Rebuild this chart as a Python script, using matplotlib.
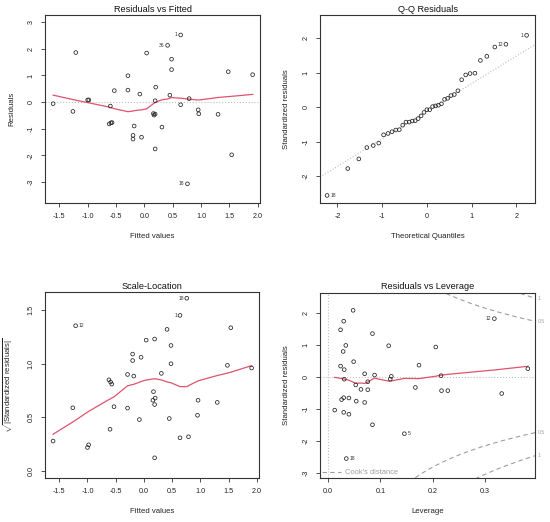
import numpy as np
import matplotlib
matplotlib.use("Agg")
import matplotlib.pyplot as plt
from matplotlib.lines import Line2D
from statistics import NormalDist

plt.rcParams['font.family'] = ['Liberation Sans', 'DejaVu Sans']
plt.rcParams['mathtext.fontset'] = 'custom'
plt.rcParams['mathtext.rm'] = 'Liberation Sans'
plt.rcParams['axes.unicode_minus'] = False

fitted = np.array([-1.61, -1.26, -1.21, -1.00, -0.98, -0.60, -0.53, -0.62, -0.59, -0.57,
                   -0.29, -0.29, -0.18, -0.20, -0.20, -0.08, -0.05, 0.04, 0.16, 0.17,
                   0.19, 0.20, 0.19, 0.19, 0.31, 0.41, 0.64, 0.48, 0.48, 0.45,
                   0.64, 0.79, 0.76, 0.95, 0.96, 1.30, 1.48, 1.54, 1.91])
residuals = np.array([-0.06, -0.35, 1.86, 0.08, 0.08, -0.15, 0.43, -0.82, -0.78, -0.77,
                      0.99, 0.45, -0.90, -1.25, -1.39, 0.30, -1.32, 1.84, -0.43, -0.49,
                      -0.45, 0.56, 0.05, -1.76, -0.94, 2.13, 2.52, 1.61, 1.22, 0.26,
                      -0.10, 0.13, -3.07, -0.29, -0.44, -0.46, 1.14, -1.98, 1.03])
sqrt_abs_std = np.array([0.28, 0.59, 1.354, 0.22, 0.245, 0.39, 0.60, 0.85, 0.83, 0.81,
                         0.90, 0.587, 0.885, 1.03, 1.09, 0.48, 1.06, 1.22, 0.66, 0.74,
                         0.62, 0.68, 0.124, 1.23, 0.91, 1.32, 1.45, 1.17, 1.00, 0.49,
                         0.31, 0.32, 1.61, 0.52, 0.66, 0.64, 0.985, 1.335, 0.96])
fit_labels = {25: "36", 26: "1", 32: "18"}
sl_labels = {2: "12", 26: "1", 32: "18"}

leverage = np.array([0.0128, 0.024, 0.030, 0.029, 0.024, 0.031, 0.031, 0.026, 0.030, 0.030,
                     0.034, 0.040, 0.040, 0.035, 0.048, 0.049, 0.053, 0.054, 0.063, 0.070,
                     0.070, 0.076, 0.076, 0.085, 0.085, 0.089, 0.116, 0.121, 0.119, 0.146,
                     0.167, 0.174, 0.206, 0.216, 0.217, 0.229, 0.318, 0.332, 0.382])
std_resid = np.array([-1.04, 1.48, 1.75, 0.80, 0.34, 0.23, -0.07, -0.71, -0.65, -1.11,
                      0.99, -0.66, -1.17, -2.56, 2.09, 0.48, -0.25, -0.76, -0.39, 0.10,
                      -0.80, -0.15, -0.40, 1.36, -1.50, 0.06, 0.98, 0.02, -0.07, -1.78,
                      -0.33, 0.37, 0.94, 0.04, -0.43, -0.43, 1.83, -0.52, 0.26])
qq_labels = {13: "18", 14: "1", 36: "12"}
lev_labels = {13: "18", 29: "5", 36: "12"}
n_params = 4
cook_levels = [0.5, 1]

RED = '#DF536B'
GRAY = '#BEBEBE'
COOK = '#9E9E9E'
INK = '#333333'


def lowess(x, y, f=2/3, iters=3):
    order = np.argsort(x, kind='stable')
    xs, ys = x[order], y[order]
    n = len(xs)
    ns = max(2, min(n, int(f * n + 1e-7)))
    rw = np.ones(n)
    fit = np.zeros(n)
    for it in range(iters + 1):
        for i in range(n):
            d = np.abs(xs - xs[i])
            h = np.sort(d)[ns - 1]
            w = np.zeros(n)
            if h > 0:
                u = d / h
                w = np.where(u <= 0.999, (1 - np.clip(u, 0, 1) ** 3) ** 3, 0.0)
                w[u <= 0.001] = 1.0
            else:
                w[d == 0] = 1.0
            w = w * rw
            sw = w.sum()
            if sw <= 0:
                fit[i] = ys[i]
                continue
            w = w / sw
            xm = np.sum(w * xs)
            c = np.sum(w * (xs - xm) ** 2)
            if h > 0 and np.sqrt(c) > 0.001 * (xs[-1] - xs[0]):
                b = np.sum(w * (xs - xm) * ys) / c
                fit[i] = np.sum(w * ys) + b * (xs[i] - xm)
            else:
                fit[i] = np.sum(w * ys)
        if it == iters:
            break
        res = ys - fit
        cmad = 6 * np.median(np.abs(res))
        if cmad == 0:
            break
        r = np.abs(res) / cmad
        rw = np.where(r < 1, (1 - r ** 2) ** 2, 0.0)
        rw[r <= 0.001] = 1.0
    return xs, fit


def style(ax):
    for s in ax.spines.values():
        s.set_color(INK)
        s.set_linewidth(0.8)
    ax.tick_params(direction='out', length=3, width=0.6, color=INK,
                   labelsize=5.2, pad=4.5, labelcolor='#222222')
    for lab in ax.get_yticklabels():
        lab.set_rotation(90)
        lab.set_va('center')


def points(ax, x, y):
    ax.scatter(x, y, s=7, facecolors='none', edgecolors='#222222', linewidths=0.55, zorder=3)


def label_ids(ax, x, y, labels, xlim):
    mid = np.mean(xlim)
    for i, txt in labels.items():
        if x[i] > mid:
            ax.annotate(txt, (x[i], y[i]), xytext=(-2.2, 0), textcoords='offset points',
                        ha='right', va='center', fontsize=3.6, color='#333333')
        else:
            ax.annotate(txt, (x[i], y[i]), xytext=(2.2, 0), textcoords='offset points',
                        ha='left', va='center', fontsize=3.6, color='#333333')


fig = plt.figure(figsize=(5.5, 5.22), dpi=100)
W, H = 550, 522
ax1 = fig.add_axes([45 / W, 1 - 203 / H, 215 / W, 188 / H])
ax2 = fig.add_axes([320 / W, 1 - 203 / H, 215 / W, 188 / H])
ax3 = fig.add_axes([45 / W, 1 - 478 / H, 214 / W, 186 / H])
ax4 = fig.add_axes([320 / W, 1 - 478 / H, 215 / W, 185.5 / H])

title_kw = dict(fontsize=6.6, pad=2.5, color='#111111')
label_kw = dict(fontsize=5.6, color='#222222', labelpad=9)

# Residuals vs Fitted
xl1 = (-1.753, 2.04)
ax1.axhline(0, color=GRAY, ls=':', lw=0.8, zorder=1)
points(ax1, fitted, residuals)
sx, sy = lowess(fitted, residuals)
ax1.plot(sx, sy, color=RED, lw=0.9, zorder=2)
label_ids(ax1, fitted, residuals, fit_labels, xl1)
ax1.set_xlim(xl1)
ax1.set_ylim(-3.79, 3.27)
ax1.set_xticks(np.arange(-1.5, 2.01, 0.5))
ax1.set_xticklabels([f"{v:.1f}" for v in np.arange(-1.5, 2.01, 0.5)])
ax1.set_yticks(range(-3, 4))
ax1.set_title("Residuals vs Fitted", **title_kw)
ax1.set_xlabel("Fitted values", **label_kw)
ax1.set_ylabel("Residuals", **label_kw)

# Q-Q Residuals
n = len(std_resid)
nd = NormalDist()
theo = np.array([nd.inv_cdf((i - 0.5) / n) for i in range(1, n + 1)])
order = np.argsort(std_resid, kind='stable')
sorted_std = std_resid[order]
q_y = np.quantile(std_resid, [0.25, 0.75])
q_x = np.array([nd.inv_cdf(0.25), nd.inv_cdf(0.75)])
slope = (q_y[1] - q_y[0]) / (q_x[1] - q_x[0])
icpt = q_y[0] - slope * q_x[0]
ax2.axline((0, icpt), slope=slope, color=GRAY, ls=':', lw=0.8, zorder=1)
points(ax2, theo, sorted_std)
xl2 = (-2.39, 2.42)
rank = {idx: pos for pos, idx in enumerate(order)}
qx = np.zeros(n)
qy = np.zeros(n)
for idx in qq_labels:
    qx[idx] = theo[rank[idx]]
    qy[idx] = sorted_std[rank[idx]]
label_ids(ax2, qx, qy, qq_labels, xl2)
ax2.set_xlim(xl2)
ax2.set_ylim(-2.78, 2.68)
ax2.set_xticks(range(-2, 3))
ax2.set_yticks(range(-2, 3))
ax2.set_title("Q-Q Residuals", **title_kw)
ax2.set_xlabel("Theoretical Quantiles", **label_kw)
ax2.set_ylabel("Standardized residuals", **label_kw)

# Scale-Location
points(ax3, fitted, sqrt_abs_std)
sx, sy = lowess(fitted, sqrt_abs_std)
ax3.plot(sx, sy, color=RED, lw=0.9, zorder=2)
label_ids(ax3, fitted, sqrt_abs_std, sl_labels, xl1)
ax3.set_xlim(xl1)
ax3.set_ylim(-0.064, 1.668)
ax3.set_xticks(np.arange(-1.5, 2.01, 0.5))
ax3.set_xticklabels([f"{v:.1f}" for v in np.arange(-1.5, 2.01, 0.5)])
ax3.set_yticks([0.0, 0.5, 1.0, 1.5])
ax3.set_yticklabels(["0.0", "0.5", "1.0", "1.5"])
ax3.set_title("Scale-Location", **title_kw)
ax3.set_xlabel("Fitted values", **label_kw)
ax3.set_ylabel(r"$\sqrt{|\mathrm{Standardized\ residuals}|}$", **label_kw)

# Residuals vs Leverage
xl4 = (-0.0153, 0.3957)
yl4 = (-3.17, 2.65)
ax4.axhline(0, color=GRAY, ls=':', lw=0.8, zorder=1)
ax4.axvline(0, color=GRAY, ls=':', lw=0.8, zorder=1)
hh = np.linspace(0.002, xl4[1], 300)
for lev in cook_levels:
    cy = np.sqrt(lev * n_params * (1 - hh) / hh)
    ax4.plot(hh, cy, color=COOK, ls=(0, (4, 3)), lw=0.8, zorder=1)
    ax4.plot(hh, -cy, color=COOK, ls=(0, (4, 3)), lw=0.8, zorder=1)
    edge = np.sqrt(lev * n_params * (1 - xl4[1]) / xl4[1])
    for yy in (edge, -edge):
        ax4.annotate(f"{lev:g}", (1, yy), xycoords=('axes fraction', 'data'),
                     xytext=(2, 0), textcoords='offset points', ha='left', va='center',
                     fontsize=3.6, color=COOK, annotation_clip=False)
points(ax4, leverage, std_resid)
sx, sy = lowess(leverage, std_resid)
ax4.plot(sx, sy, color=RED, lw=0.9, zorder=2)
label_ids(ax4, leverage, std_resid, lev_labels, xl4)
ax4.set_xlim(xl4)
ax4.set_ylim(yl4)
ax4.set_xticks([0.0, 0.1, 0.2, 0.3])
ax4.set_xticklabels(["0.0", "0.1", "0.2", "0.3"])
ax4.set_yticks(range(-3, 3))
leg = ax4.legend([Line2D([], [], color=COOK, ls=(0, (4, 3)), lw=0.8)], ["Cook's distance"],
                 loc='lower left', frameon=False, fontsize=5.4, handlelength=2.6,
                 handletextpad=0.5, borderaxespad=0.1, borderpad=0.1, labelcolor=COOK)
ax4.set_title("Residuals vs Leverage", **title_kw)
ax4.set_xlabel("Leverage", **label_kw)
ax4.set_ylabel("Standardized residuals", **label_kw)

for ax in (ax1, ax2, ax3, ax4):
    style(ax)

fig.savefig("out.png", dpi=100, facecolor='white')
